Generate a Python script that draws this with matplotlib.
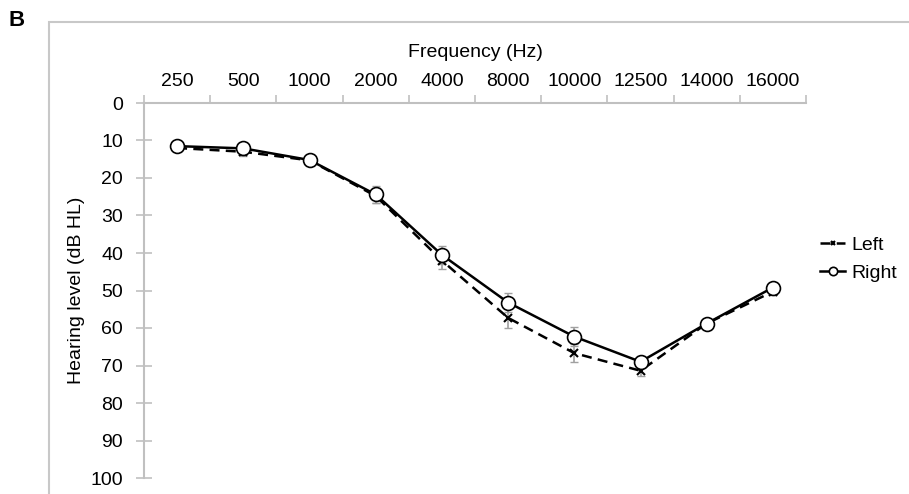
import matplotlib.pyplot as plt
from matplotlib.patches import Rectangle
import numpy as np

plt.rcParams['font.family'] = ['Liberation Sans', 'DejaVu Sans']

freqs = ['250', '500', '1000', '2000', '4000', '8000', '10000', '12500', '14000', '16000']
left = [12.0, 13.0, 15.3, 24.8, 42.0, 57.3, 66.7, 71.4, 58.8, 50.3]
right = [11.5, 12.1, 15.2, 24.4, 40.5, 53.2, 62.3, 69.0, 58.8, 49.2]
left_err = [0.8, 1.2, 0.8, 2.0, 2.2, 2.6, 2.4, 1.5, 0.8, 0.8]
right_err = [0.8, 1.0, 0.8, 2.2, 2.4, 2.6, 2.6, 1.5, 0.8, 0.8]

fig = plt.figure(figsize=(9.09, 4.94), dpi=100)
ax = fig.add_axes([144/909, 1-478/494, 662/909, 375/494])

x = np.arange(len(freqs))
grey = '#a0a0a0'

ax.errorbar(x, left, yerr=left_err, fmt='none', ecolor=grey, elinewidth=1.2, capsize=3, zorder=1)
ax.errorbar(x, right, yerr=right_err, fmt='none', ecolor=grey, elinewidth=1.2, capsize=3, zorder=1)
ax.plot(x, left, color='black', lw=1.8, ls=(0, (4, 2.5)), marker='x', ms=6, mew=1.5,
        label='Left', zorder=2)
ax.plot(x, right, color='black', lw=1.8, marker='o', ms=10, mfc='white', mec='black', mew=1.2,
        label='Right', zorder=3)

ax.set_xlim(-0.5, len(freqs) - 0.5)
ax.set_ylim(100, 0)
ax.set_yticks(np.arange(0, 101, 10))

ax.xaxis.tick_top()
ax.xaxis.set_label_position('top')
ax.set_xticks(np.arange(-0.5, len(freqs)), minor=False)
ax.set_xticklabels([])
ax.set_xticks(x, minor=True)
ax.set_xticklabels(freqs, minor=True)
ax.tick_params(axis='x', which='minor', length=0, labelsize=14, pad=9)
ax.tick_params(axis='x', which='major', length=6, width=1.2, color='#c0c0c0', direction='out')
ax.tick_params(axis='y', length=12, width=1.2, color='#c0c0c0', labelsize=14, direction='inout', pad=9)
ax.set_xlabel('Frequency (Hz)', fontsize=14, labelpad=12)
ax.set_ylabel('Hearing level (dB HL)', fontsize=14, labelpad=4)

for s in ['right', 'bottom']:
    ax.spines[s].set_visible(False)
for s in ['left', 'top']:
    ax.spines[s].set_color('#c0c0c0')
    ax.spines[s].set_linewidth(1.5)

leg = ax.legend(loc='upper left', bbox_to_anchor=(820/909, 1 - 236/494), bbox_transform=fig.transFigure,
                frameon=False, fontsize=14, handlelength=1.3, handletextpad=0.3, labelspacing=0.55,
                borderaxespad=0, borderpad=0, markerscale=0.6)

fig.patches.append(Rectangle((49/909, -0.1), 1.0, 1 - 22/494 + 0.1, transform=fig.transFigure,
                             fill=False, edgecolor='#c8c8c8', lw=1.5))
fig.text(9/909, 1 - 20/494, 'B', fontsize=16, fontweight='bold', va='center')

plt.savefig('out.png', dpi=100)
